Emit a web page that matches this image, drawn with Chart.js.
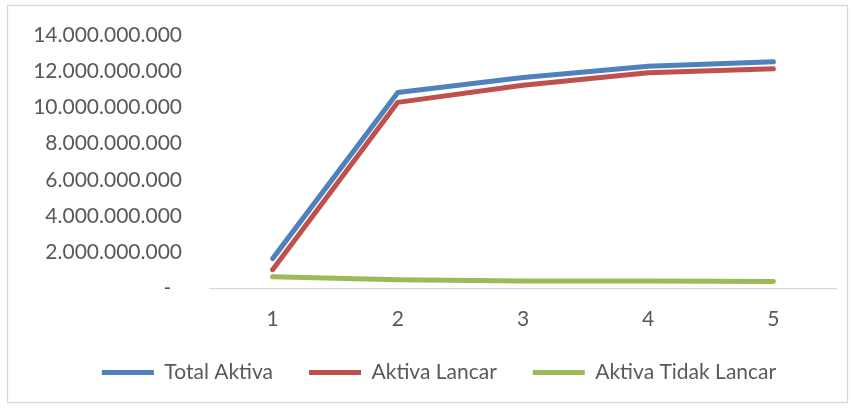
<!DOCTYPE html>
<html>
<head>
<meta charset="utf-8">
<script src="https://cdn.jsdelivr.net/npm/chart.js@4"></script>
<style>
  body { margin: 0; background: #fff; }
  #wrap { position: relative; width: 854px; height: 408px; }
  #canvas { position: absolute; left: 0; top: 0; }
</style>
</head>
<body>
<div id="wrap"><canvas id="canvas" width="854" height="408"></canvas></div>
<script>
const years = ['1', '2', '3', '4', '5'];
const totalAktiva = [1650000000, 10830000000, 11650000000, 12280000000, 12520000000];
const aktivaLancar = [1040000000, 10280000000, 11220000000, 11910000000, 12130000000];
const aktivaTidakLancar = [650000000, 480000000, 420000000, 410000000, 390000000];

const textColor = '#595959';
const fontFamily = 'Lato, "Open Sans", sans-serif';

function formatRibuan(v) {
    if (v === 0) return '-  ';
    return String(v).replace(/\B(?=(\d{3})+(?!\d))/g, '.');
}

// frame round the chart like the Excel chart area
const frame = {
    id: 'frame',
    beforeDraw(chart) {
        const c = chart.ctx;
        c.save();
        c.fillStyle = '#fff';
        c.fillRect(0, 0, chart.width, chart.height);
        c.strokeStyle = '#d9d9d9';
        c.lineWidth = 1.3;
        c.strokeRect(7.5, 5.5, 840, 397);
        c.restore();
    }
};

// legend is centred a bit right of the canvas middle in the original
const legendShift = {
    id: 'legendShift',
    afterLayout(chart) {
        chart.legend.left = 42;
        chart.legend.right = 836;
    }
};

function series(label, data, color) {
    return {
        label: label,
        data: data,
        borderColor: color,
        backgroundColor: color,
        borderWidth: 5,
        borderCapStyle: 'round',
        borderJoinStyle: 'round',
        pointRadius: 0,
        tension: 0,
        fill: false
    };
}

const ctx = document.getElementById('canvas').getContext('2d');
new Chart(ctx, {
    type: 'line',
    data: {
        labels: years,
        datasets: [
            series('Total Aktiva', totalAktiva, '#4f81bd'),
            series('Aktiva Lancar', aktivaLancar, '#c0504d'),
            series('Aktiva Tidak Lancar', aktivaTidakLancar, '#9bbb59')
        ]
    },
    options: {
        responsive: false,
        maintainAspectRatio: false,
        animation: false,
        layout: {
            padding: { top: 35, left: 0, right: 18, bottom: 15 }
        },
        scales: {
            x: {
                offset: true,
                grid: { display: false, drawTicks: false },
                border: { display: true, color: '#d9d9d9', width: 1.3 },
                ticks: { color: textColor, font: { family: fontFamily, size: 21 }, padding: 18, maxRotation: 0 },
                afterFit: (s) => { s.height = 37.5; }
            },
            y: {
                min: 0,
                max: 14000000000,
                grid: { display: false, drawTicks: false },
                border: { display: false },
                ticks: {
                    stepSize: 2000000000,
                    color: textColor,
                    font: { family: fontFamily, size: 21 },
                    padding: 28,
                    callback: (v) => formatRibuan(v)
                },
                afterFit: (s) => {
                    s.width = 210;
                    s.paddingTop = 0;
                    s.paddingBottom = 0;
                }
            }
        },
        plugins: {
            legend: {
                position: 'bottom',
                labels: {
                    usePointStyle: true,
                    pointStyle: 'line',
                    pointStyleWidth: 52,
                    padding: 36,
                    color: textColor,
                    font: { family: fontFamily, size: 21 }
                }
            },
            tooltip: { enabled: false }
        }
    },
    plugins: [frame, legendShift]
});
</script>
</body>
</html>
